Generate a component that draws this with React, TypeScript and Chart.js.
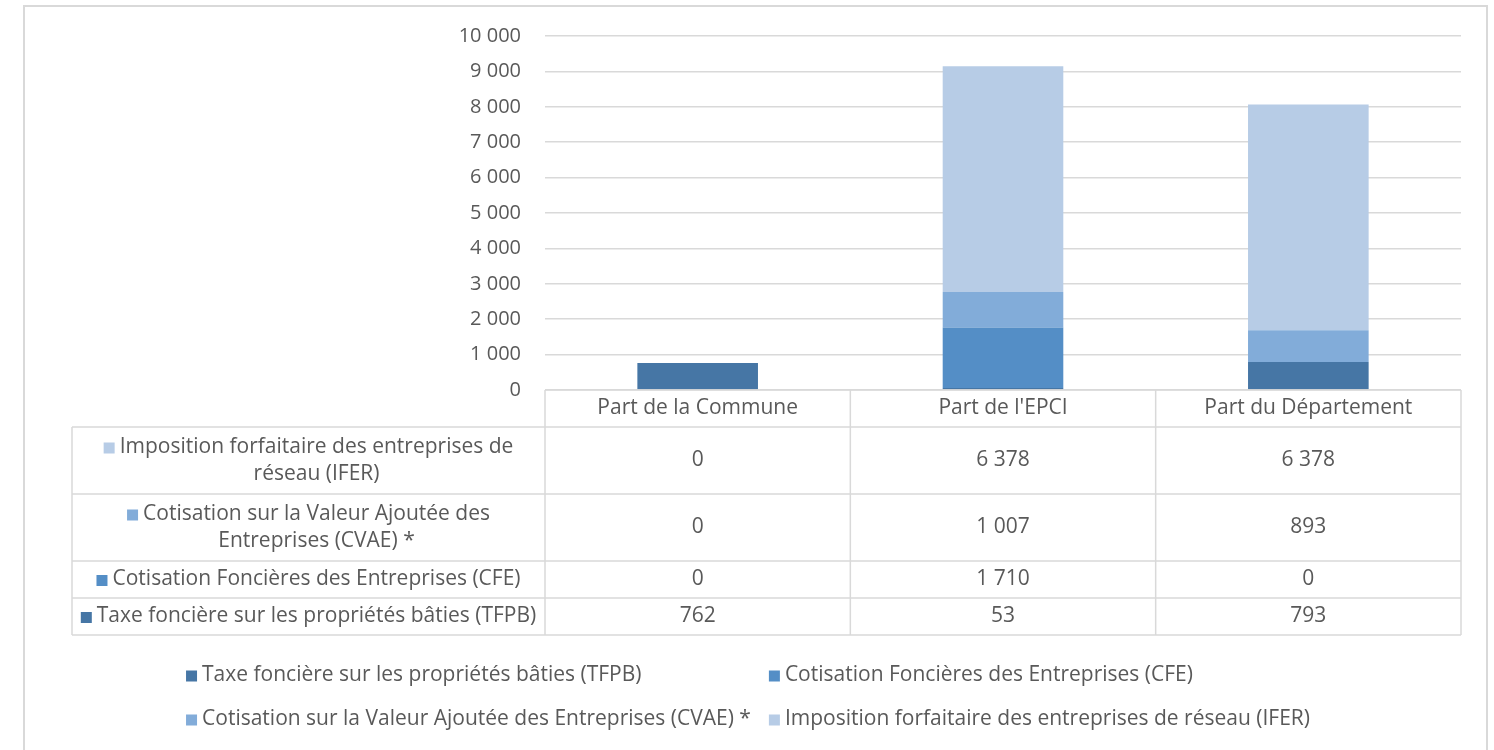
import React, { useEffect, useRef } from "react";
import { Chart, registerables } from "chart.js";

Chart.register(...registerables);

const categories = ["Part de la Commune", "Part de l'EPCI", "Part du Département"];
const seriesLabels = [
  "Taxe foncière sur les propriétés bâties (TFPB)",
  "Cotisation Foncières des Entreprises (CFE)",
  "Cotisation sur la Valeur Ajoutée des Entreprises (CVAE) *",
  "Imposition forfaitaire des entreprises de réseau (IFER)",
];
const tableLabelLines = [
  ["Taxe foncière sur les propriétés bâties (TFPB)"],
  ["Cotisation Foncières des Entreprises (CFE)"],
  ["Cotisation sur la Valeur Ajoutée des", "Entreprises (CVAE) *"],
  ["Imposition forfaitaire des entreprises de", "réseau (IFER)"],
];
const tfpbValues = [762, 53, 793];
const cfeValues = [0, 1710, 0];
const cvaeValues = [0, 1007, 893];
const iferValues = [0, 6378, 6378];
const seriesColors = ["#4676a5", "#548ec6", "#82acd9", "#b7cce6"];
const yMin = 0;
const yMax = 10000;
const yStep = 1000;

const FONT = "'Open Sans', 'Noto Sans', sans-serif";
const FSIZE = 21;
const TICK_FSIZE = 20;
const TEXT = "#595959";
const LINE = "#d9d9d9";

const fmt = (v: number) => String(Math.round(v)).replace(/\B(?=(\d{3})+(?!\d))/g, " ");

const tablePlugin = {
  id: "tableAndLegend",
  beforeDraw(chart: any) {
    const ctx = chart.ctx;
    ctx.save();
    ctx.fillStyle = "#ffffff";
    ctx.fillRect(0, 0, chart.width, chart.height);
    ctx.strokeStyle = LINE;
    ctx.lineWidth = 2;
    ctx.strokeRect(24, 6, 1463, 770);
    ctx.restore();
  },
  afterDraw(chart: any) {
    const ctx = chart.ctx;
    const { left, right, bottom } = chart.chartArea;
    const n = categories.length;
    const colW = (right - left) / n;
    const tableLeft = 72;
    const headerH = 37;
    const ds = chart.data.datasets;
    const order = [3, 2, 1, 0];
    const rowHeights = order.map((i) => 37 + (tableLabelLines[i].length - 1) * 30);
    const rowsTop: number[] = [];
    let yy = bottom + headerH;
    rowHeights.forEach((h) => {
      rowsTop.push(yy);
      yy += h;
    });
    const tableBottom = yy;

    ctx.save();
    ctx.strokeStyle = LINE;
    ctx.lineWidth = 1.5;
    ctx.beginPath();
    ctx.moveTo(left, bottom);
    ctx.lineTo(right, bottom);
    rowsTop.forEach((t) => {
      ctx.moveTo(tableLeft, t);
      ctx.lineTo(right, t);
    });
    ctx.moveTo(tableLeft, tableBottom);
    ctx.lineTo(right, tableBottom);
    ctx.moveTo(tableLeft, bottom + headerH);
    ctx.lineTo(tableLeft, tableBottom);
    for (let c = 0; c <= n; c++) {
      const x = left + c * colW;
      ctx.moveTo(x, bottom);
      ctx.lineTo(x, tableBottom);
    }
    ctx.stroke();

    ctx.fillStyle = TEXT;
    ctx.font = `${FSIZE}px ${FONT}`;
    ctx.textAlign = "center";
    ctx.textBaseline = "middle";
    const xs = chart.scales.x;
    categories.forEach((cat, c) => {
      const cx = xs.getPixelForValue(c);
      ctx.fillText(cat, cx, bottom + headerH / 2);
    });

    const sq = 11;
    const gap = 5;
    order.forEach((si, r) => {
      const top = rowsTop[r];
      const h = rowHeights[r];
      const cy = top + h / 2;
      ds[si].data.forEach((v: number, c: number) => {
        const cx = xs.getPixelForValue(c);
        ctx.fillStyle = TEXT;
        ctx.textAlign = "center";
        ctx.fillText(fmt(v), cx, cy);
      });
      const lines = tableLabelLines[si];
      const widths = lines.map((l) => ctx.measureText(l).width);
      const maxW = Math.max(...widths);
      const blockW = sq + gap + maxW;
      const cellCenter = (tableLeft + left) / 2;
      const bl = cellCenter - blockW / 2;
      const lineH = 27;
      const firstY = cy - ((lines.length - 1) * lineH) / 2;
      ctx.fillStyle = ds[si].backgroundColor;
      ctx.fillRect(bl, firstY - sq / 2 + 1, sq, sq);
      ctx.fillStyle = TEXT;
      ctx.textAlign = "center";
      const textCenter = bl + sq + gap + maxW / 2;
      lines.forEach((l, k) => {
        ctx.fillText(l, textCenter, firstY + k * lineH);
      });
    });

    const legendCols = 2;
    const items = ds.map((d: any) => ({ label: d.label, color: d.backgroundColor }));
    const itemW = items.map((it: any) => sq + gap + ctx.measureText(it.label).width);
    const colWidths: number[] = [];
    for (let c = 0; c < legendCols; c++) {
      let m = 0;
      items.forEach((_: any, i: number) => {
        if (i % legendCols === c) m = Math.max(m, itemW[i]);
      });
      colWidths.push(m + 18);
    }
    const totalW = colWidths.reduce((a, b) => a + b, 0);
    const legendCenter = 757;
    const lx0 = legendCenter - totalW / 2;
    const ly0 = tableBottom + 40;
    items.forEach((it: any, i: number) => {
      const c = i % legendCols;
      const r = Math.floor(i / legendCols);
      let lx = lx0;
      for (let k = 0; k < c; k++) lx += colWidths[k];
      const ly = ly0 + r * 44;
      ctx.fillStyle = it.color;
      ctx.fillRect(lx, ly - sq / 2 + 1, sq, sq);
      ctx.fillStyle = TEXT;
      ctx.textAlign = "left";
      ctx.fillText(it.label, lx + sq + gap, ly);
    });
    ctx.restore();
  },
};

export default function App() {
  const canvasRef = useRef<HTMLCanvasElement | null>(null);
  useEffect(() => {
    if (!canvasRef.current) return;
    const seriesValues = [tfpbValues, cfeValues, cvaeValues, iferValues];
    const chart = new Chart(canvasRef.current, {
      type: "bar",
      data: {
        labels: categories,
        datasets: seriesValues.map((vals, i) => ({
          label: seriesLabels[i],
          data: vals,
          backgroundColor: seriesColors[i],
          borderWidth: 0,
          categoryPercentage: 1,
          barPercentage: 0.395,
        })),
      },
      options: {
        responsive: false,
        animation: false,
        devicePixelRatio: 1,
        layout: { padding: { left: 0, right: 33, top: 35, bottom: 360 } },
        plugins: {
          legend: { display: false },
          tooltip: { enabled: false },
          title: { display: false },
        },
        scales: {
          x: { stacked: true, display: false },
          y: {
            stacked: true,
            min: yMin,
            max: yMax,
            afterFit: (scale: any) => {
              scale.width = 545;
            },
            ticks: {
              stepSize: yStep,
              padding: 24,
              color: TEXT,
              font: { family: FONT, size: TICK_FSIZE },
              callback: (v: any) => fmt(Number(v)),
            },
            grid: { color: LINE, lineWidth: 1.5, drawTicks: false },
            border: { display: false },
          },
        },
      },
      plugins: [tablePlugin],
    });
    return () => chart.destroy();
  }, []);
  return (
    <div style={{ position: "absolute", left: 0, top: 0, width: 1494, height: 750 }}>
      <canvas ref={canvasRef} width={1494} height={750} />
    </div>
  );
}
